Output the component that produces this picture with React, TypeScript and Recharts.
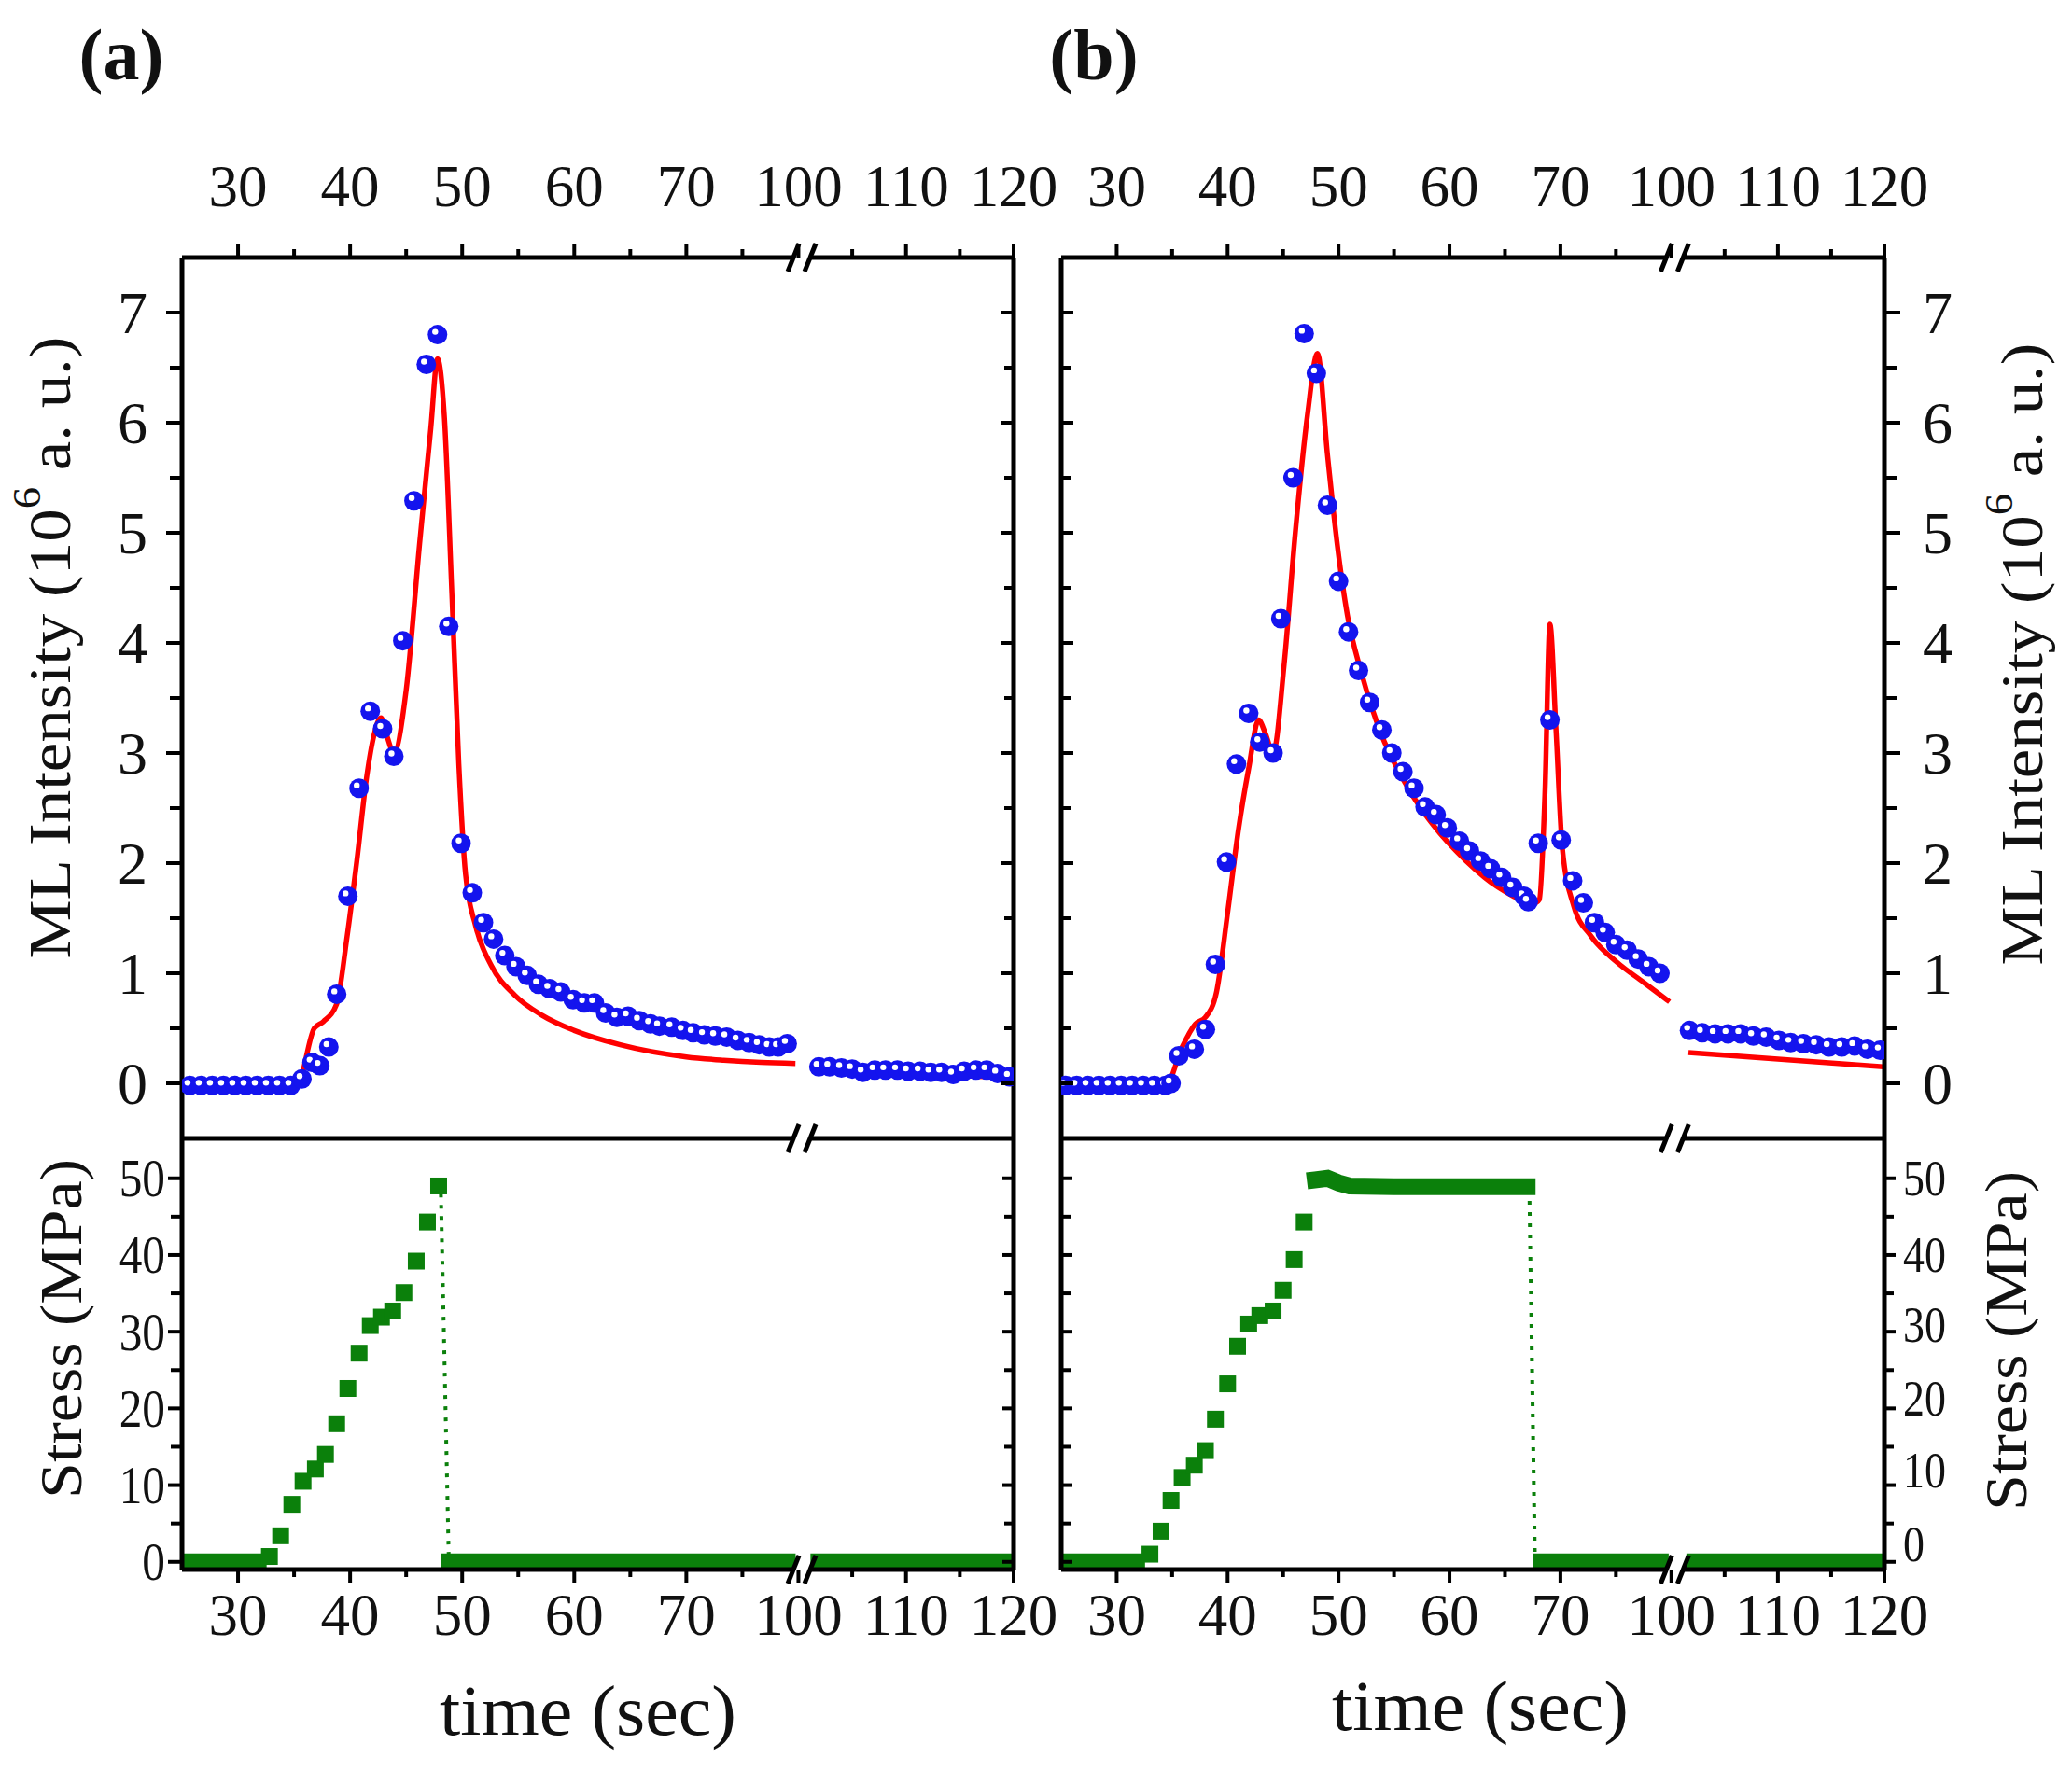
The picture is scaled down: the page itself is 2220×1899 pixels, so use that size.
import React from "react";
import { ComposedChart, Line, Scatter, XAxis, YAxis, ReferenceDot } from "recharts";

// broken time axis: 70-100 s squeezed to one decade, gap at 100 s
const axisPos = (t: number) =>
  t <= 70 ? t : t <= 100 ? 70 + (t - 70) / 3 : 80 + (t - 100) * 0.96;

const xTickTimes = [30, 40, 50, 60, 70, 100, 110, 120];
const xTickLabels = ["30", "40", "50", "60", "70", "100", "110", "120"];
const xMinorTimes = [35, 45, 55, 65, 85, 105, 115];
const mlTicks = [0, 0.5, 1, 1.5, 2, 2.5, 3, 3.5, 4, 4.5, 5, 5.5, 6, 6.5, 7];
const mlMajor = [0, 1, 2, 3, 4, 5, 6, 7];
const stressTicks = [0, 5, 10, 15, 20, 25, 30, 35, 40, 45, 50];
const stressMajor = [0, 10, 20, 30, 40, 50];

// (a) ML intensity, measured (blue) and fit (red)
const mlBlueA: [number, number][] = [
  [25.7, -0.02], [26.7, -0.02], [27.7, -0.02], [28.7, -0.02], [29.7, -0.02], [30.7, -0.02],
  [31.7, -0.02], [32.7, -0.02], [33.7, -0.02], [34.7, -0.02], [35.7, 0.04], [36.6, 0.19],
  [37.3, 0.16], [38.1, 0.33], [38.8, 0.81], [39.8, 1.7], [40.8, 2.68], [41.8, 3.38],
  [42.9, 3.22], [43.9, 2.97], [44.7, 4.02], [45.7, 5.29], [46.8, 6.53], [47.8, 6.8],
  [48.8, 4.15], [49.9, 2.18], [50.9, 1.73], [51.9, 1.46], [52.8, 1.31], [53.8, 1.16],
  [54.8, 1.06], [55.8, 0.98], [56.8, 0.9], [57.8, 0.86], [58.8, 0.83], [59.9, 0.76],
  [60.9, 0.73], [61.8, 0.73], [62.8, 0.64], [63.8, 0.6], [64.8, 0.61], [65.8, 0.57],
  [66.8, 0.54], [67.6, 0.52], [68.7, 0.51], [69.7, 0.48], [71.8, 0.46], [74.8, 0.44],
  [77.8, 0.43], [80.8, 0.42], [83.8, 0.39], [86.8, 0.37], [89.5, 0.35], [92.2, 0.33],
  [94.6, 0.33], [97, 0.36],
];
const mlBlueA2: [number, number][] = [
  [101.9, 0.15], [102.9, 0.15], [104.0, 0.14], [105.0, 0.13], [106.0, 0.1], [107.1, 0.12],
  [108.1, 0.12], [109.2, 0.12], [110.2, 0.11], [111.3, 0.11], [112.3, 0.1], [113.3, 0.1],
  [114.4, 0.08], [115.4, 0.11], [116.5, 0.12], [117.5, 0.12], [118.5, 0.09], [119.6, 0.06],
];
const mlRedA: [number, number][] = [
  [25, 0], [35.3, 0], [36.8, 0.5], [37.6, 0.56], [38.8, 0.72], [39.7, 1.31], [40.6, 2.02],
  [41.5, 2.8], [42.1, 3.15], [42.75, 3.32], [43.3, 3.15], [43.9, 3.0], [45.0, 3.57],
  [46.2, 4.9], [47.2, 5.95], [47.8, 6.58], [48.4, 6.07], [49.1, 4.4], [49.7, 2.9],
  [50.3, 1.9], [51.2, 1.43], [52.6, 1.07], [54.7, 0.8], [57.1, 0.62], [60, 0.48],
  [64.1, 0.35], [70, 0.24], [80, 0.21], [90, 0.19], [99.2, 0.18],
];
const mlRedA2: [number, number][] = [[101.2, 0.12], [110, 0.09], [119.9, 0.05]];

// (b)
const mlBlueB: [number, number][] = [
  [25.4, -0.02], [26.4, -0.02], [27.4, -0.02], [28.4, -0.02], [29.4, -0.02], [30.4, -0.02],
  [31.4, -0.02], [32.4, -0.02], [33.4, -0.02], [34.4, -0.02], [34.9, 0.0], [35.6, 0.25],
  [37.0, 0.31], [38.0, 0.49], [38.9, 1.08], [39.9, 2.01], [40.8, 2.9], [41.9, 3.36],
  [42.9, 3.1], [44.1, 3.0], [44.8, 4.22], [45.9, 5.5], [46.9, 6.81], [48.0, 6.45],
  [49.0, 5.25], [50.0, 4.56], [50.9, 4.1], [51.8, 3.75], [52.8, 3.46], [53.9, 3.21],
  [54.8, 3.0], [55.8, 2.83], [56.8, 2.68], [57.8, 2.51], [58.8, 2.44], [59.8, 2.32],
  [60.9, 2.2], [61.8, 2.11], [62.8, 2.02], [63.7, 1.95], [64.7, 1.87], [65.7, 1.78],
  [66.7, 1.7], [67.1, 1.65], [68.0, 2.18], [69.05, 3.3], [70.2, 2.21], [73.3, 1.84],
  [76.2, 1.64], [79.2, 1.46], [82.1, 1.37], [85, 1.26], [88, 1.21], [91, 1.13],
  [93.9, 1.06], [96.9, 1.0],
];
const mlBlueB2: [number, number][] = [
  [101.7, 0.48], [102.9, 0.46], [104.1, 0.45], [105.3, 0.45], [106.5, 0.45], [107.7, 0.43],
  [108.9, 0.42], [110.1, 0.39], [111.2, 0.37], [112.4, 0.36], [113.6, 0.35], [114.8, 0.33],
  [116.0, 0.33], [117.2, 0.34], [118.4, 0.31], [119.6, 0.3],
];
const mlRedB: [number, number][] = [
  [25, 0], [34.5, 0], [35.9, 0.33], [37.1, 0.54], [38, 0.6], [39, 0.83], [40, 1.55],
  [41, 2.32], [41.9, 2.86], [42.8, 3.3], [43.4, 3.18], [44.1, 3.0], [45.1, 3.81],
  [46.1, 5.0], [47.2, 6.07], [48.1, 6.63], [49, 5.71], [49.9, 4.88], [50.8, 4.25],
  [52, 3.75], [53.7, 3.21], [56.1, 2.71], [58.5, 2.35], [61.5, 2.02], [64.4, 1.78],
  [67.7, 1.64], [68.1, 1.67], [68.6, 2.62], [69.05, 4.17], [69.6, 3.21], [70.5, 2.14],
  [73.6, 1.61], [78.2, 1.34], [85.3, 1.1], [92.4, 0.92], [99.5, 0.74],
];
const mlRedB2: [number, number][] = [[101.6, 0.28], [110, 0.22], [119.9, 0.15]];

// stress (MPa)
const stressRiseA: [number, number][] = [
  [32.8, 0.7], [33.8, 3.4], [34.8, 7.5], [35.8, 10.5], [36.9, 12.1], [37.8, 14.0],
  [38.8, 18.0], [39.8, 22.6], [40.8, 27.2], [41.8, 30.8], [42.8, 31.9], [43.8, 32.7],
  [44.8, 35.1], [45.9, 39.2], [46.9, 44.3], [47.9, 49.0],
];
const stressDropA: [number, number][] = [[48.1, 48], [48.8, 0.5]];
const stressZeroA: [number, number][][] = [
  [[25.6, 0], [31.8, 0]],
  [[48.9, 0], [97, 0]],
  [[101.9, 0], [119.3, 0]],
];
const stressRiseB: [number, number][] = [
  [33.0, 1.0], [34.0, 4.0], [34.9, 8.0], [35.9, 11.0], [37.0, 12.6], [38.0, 14.5],
  [38.9, 18.6], [40.0, 23.2], [40.9, 28.1], [41.9, 31.0], [42.9, 32.1], [44.1, 32.7],
  [45.0, 35.4], [46.0, 39.4], [46.9, 44.3],
];
const stressHoldB: [number, number][] = [
  [47.9, 49.8], [49.0, 50.0], [50.0, 49.4], [51.0, 49.0], [55, 48.9], [60, 48.9], [67.0, 48.9],
];
const stressDropB: [number, number][] = [[67.2, 48.5], [67.7, 0.5]];
const stressZeroB: [number, number][][] = [
  [[25.6, 0], [31.8, 0]],
  [[68.3, 0], [97, 0]],
  [[102.2, 0], [119.3, 0]],
];

const FONT = "'Liberation Serif', 'Times New Roman', serif";
const BLUE = "#1414ee";
const RED = "#ff0000";
const GREEN = "#0b800b";
const X_DOMAIN: [number, number] = [25, axisPos(120)];
const ML_DOMAIN: [number, number] = [-0.5, 7.5];
const ST_DOMAIN: [number, number] = [-1, 55.2];
const BREAK_POS = 80.3;
const AXIS_LINE = { stroke: "#000", strokeWidth: 5 };
// in the original the right-hand stress labels creep upward from their ticks
const rightStressShift = new Map<number, number>([[30, -7], [20, -11], [10, -16], [0, -19]]);

const pts = (arr: [number, number][]) => arr.map(([t, v]) => ({ x: axisPos(t), y: v }));

const xMajorPos = xTickTimes.map(axisPos);
const xTicks = [...xMajorPos, ...xMinorTimes.map(axisPos)].sort((a, b) => a - b);
const xLabelMap = new Map(xMajorPos.map((p, i) => [p, xTickLabels[i]] as [number, string]));
const xMajorSet = new Set(xMajorPos);
const mlLabelMap = new Map(mlMajor.map((v) => [v, String(v)] as [number, string]));
const stLabelMap = new Map(stressMajor.map((v) => [v, String(v)] as [number, string]));

type Side = "top" | "bottom" | "left" | "right";
const DIR: Record<Side, [number, number]> = { top: [0, -1], bottom: [0, 1], left: [-1, 0], right: [1, 0] };

function makeTick(
  side: Side,
  o: {
    inward?: boolean;
    major: Set<number>;
    labels?: Map<number, string>;
    majorLen: number;
    minorLen: number;
    gap?: number;
    fontSize?: number;
    squeeze?: number;
    shift?: Map<number, number>;
  }
) {
  return (props: any) => {
    const { x, y, payload } = props;
    const v = payload.value;
    const [dx, dy] = DIR[side];
    const s = o.inward ? -1 : 1;
    const len = o.major.has(v) ? o.majorLen : o.minorLen;
    const text = o.labels ? o.labels.get(v) : undefined;
    const g = o.gap ?? 0;
    const sh = o.shift?.get(v) ?? 0;
    const anchor = side === "left" ? "end" : side === "right" ? "start" : "middle";
    return (
      <g>
        <line x1={x} y1={y} x2={x + dx * s * len} y2={y + dy * s * len} stroke="#000" strokeWidth={4} />
        {text !== undefined && (
          <text
            transform={`translate(${x + dx * g},${y + dy * g + sh}) scale(${o.squeeze ?? 1},1)`}
            textAnchor={anchor}
            dominantBaseline="central"
            fontFamily={FONT}
            fontSize={o.fontSize ?? 62}
            fill="#111"
          >
            {text}
          </text>
        )}
      </g>
    );
  };
}

const xTopTick = makeTick("top", { major: xMajorSet, labels: xLabelMap, majorLen: 15, minorLen: 9, gap: 76, fontSize: 63 });
const xSepTick = makeTick("top", { inward: true, major: xMajorSet, majorLen: 18, minorLen: 10 });
const xBottomTick = makeTick("bottom", { major: xMajorSet, labels: xLabelMap, majorLen: 14, minorLen: 8, gap: 49, fontSize: 63 });

const mlSet = new Set(mlMajor);
const mlLeftOut = makeTick("left", { major: mlSet, labels: mlLabelMap, majorLen: 17, minorLen: 13, gap: 37, fontSize: 64 });
const mlRightIn = makeTick("right", { inward: true, major: mlSet, majorLen: 13, minorLen: 10 });
const mlLeftIn = makeTick("left", { inward: true, major: mlSet, majorLen: 13, minorLen: 10 });
const mlRightOut = makeTick("right", { major: mlSet, labels: mlLabelMap, majorLen: 17, minorLen: 13, gap: 41, fontSize: 64 });

const stSet = new Set(stressMajor);
const stLeftOut = makeTick("left", { major: stSet, labels: stLabelMap, majorLen: 15, minorLen: 12, gap: 18, fontSize: 58, squeeze: 0.85 });
const stRightIn = makeTick("right", { inward: true, major: stSet, majorLen: 12, minorLen: 10 });
const stLeftIn = makeTick("left", { inward: true, major: stSet, majorLen: 12, minorLen: 10 });
const stRightOut = makeTick("right", {
  major: stSet, labels: stLabelMap, majorLen: 12, minorLen: 10, gap: 20, fontSize: 54, squeeze: 0.85, shift: rightStressShift,
});

const Sphere = (p: any) => (
  <g>
    <circle cx={p.cx} cy={p.cy} r={10.5} fill={BLUE} />
    <circle cx={p.cx - 2.5} cy={p.cy - 3} r={3.2} fill="#fff" />
  </g>
);

const GreenSquare = (p: any) => <rect x={p.cx - 9} y={p.cy - 9} width={18} height={18} fill={GREEN} />;

const BreakMark = (p: any) => (
  <g>
    <rect x={p.cx - 9} y={p.cy - 4} width={18} height={8} fill="#fff" />
    <line x1={p.cx - 15} y1={p.cy + 15} x2={p.cx - 3} y2={p.cy - 15} stroke="#000" strokeWidth={5} />
    <line x1={p.cx + 3} y1={p.cy + 15} x2={p.cx + 15} y2={p.cy - 15} stroke="#000" strokeWidth={5} />
  </g>
);

type PanelGeom = { left: number; width: number; leftW: number; rightW: number; marginRight: number; labelsLeft: boolean };

// axis props shared by every axis; allowDataOverflow keeps the fixed domain on axes that carry no series
const axisBase = { type: "number" as const, interval: 0, tickSize: 0, tickMargin: 0, tickLine: false, axisLine: AXIS_LINE, allowDataOverflow: true };

function MlPanel({ g, blue, blue2, red, red2 }: { g: PanelGeom; blue: [number, number][]; blue2: [number, number][]; red: [number, number][]; red2: [number, number][] }) {
  return (
    <div style={{ position: "absolute", left: g.left, top: 0 }}>
      <ComposedChart width={g.width} height={1240} margin={{ top: 0, right: g.marginRight, bottom: 20, left: 0 }}>
        <XAxis {...axisBase} xAxisId="x" orientation="top" dataKey="x" domain={X_DOMAIN} ticks={xTicks} height={276} tick={xTopTick} />
        <YAxis {...axisBase} yAxisId="l" orientation="left" dataKey="y" domain={ML_DOMAIN} ticks={mlTicks}
          width={g.leftW} tick={g.labelsLeft ? mlLeftOut : mlLeftIn} />
        <YAxis {...axisBase} yAxisId="r" orientation="right" domain={ML_DOMAIN} ticks={mlTicks}
          width={g.rightW} tick={g.labelsLeft ? mlRightIn : mlRightOut} />
        <Scatter xAxisId="x" yAxisId="l" data={pts(blue)} dataKey="y" shape={Sphere} isAnimationActive={false} />
        <Scatter xAxisId="x" yAxisId="l" data={pts(blue2)} dataKey="y" shape={Sphere} isAnimationActive={false} />
        <Line xAxisId="x" yAxisId="l" data={pts(red)} dataKey="y" type="monotone" stroke={RED} strokeWidth={5.5} dot={false} isAnimationActive={false} />
        <Line xAxisId="x" yAxisId="l" data={pts(red2)} dataKey="y" type="monotone" stroke={RED} strokeWidth={5.5} dot={false} isAnimationActive={false} />
        <ReferenceDot xAxisId="x" yAxisId="l" x={BREAK_POS} y={ML_DOMAIN[1]} r={0} ifOverflow="visible" shape={BreakMark} />
      </ComposedChart>
    </div>
  );
}

function StressPanel({ g, rise, hold, drop, zeros }: { g: PanelGeom; rise: [number, number][]; hold?: [number, number][]; drop: [number, number][]; zeros: [number, number][][] }) {
  return (
    <div style={{ position: "absolute", left: g.left, top: 1200 }}>
      <ComposedChart width={g.width} height={620} margin={{ top: 0, right: g.marginRight, bottom: 0, left: 0 }}>
        <XAxis {...axisBase} xAxisId="t" orientation="top" domain={X_DOMAIN} ticks={xTicks} height={20} tick={xSepTick} />
        <XAxis {...axisBase} xAxisId="b" orientation="bottom" dataKey="x" domain={X_DOMAIN} ticks={xTicks} height={138} tick={xBottomTick} />
        <YAxis {...axisBase} yAxisId="l" orientation="left" dataKey="y" domain={ST_DOMAIN} ticks={stressTicks}
          width={g.leftW} tick={g.labelsLeft ? stLeftOut : stLeftIn} />
        <YAxis {...axisBase} yAxisId="r" orientation="right" domain={ST_DOMAIN} ticks={stressTicks}
          width={g.rightW} tick={g.labelsLeft ? stRightIn : stRightOut} />
        {zeros.map((seg, i) => (
          <Line key={`z${i}`} xAxisId="b" yAxisId="l" data={pts(seg)} dataKey="y" type="linear" stroke={GREEN}
            strokeWidth={18} strokeLinecap="square" dot={false} isAnimationActive={false} />
        ))}
        {hold && (
          <Line xAxisId="b" yAxisId="l" data={pts(hold)} dataKey="y" type="linear" stroke={GREEN}
            strokeWidth={18} strokeLinecap="square" dot={false} isAnimationActive={false} />
        )}
        <Line xAxisId="b" yAxisId="l" data={pts(drop)} dataKey="y" type="linear" stroke={GREEN}
          strokeWidth={4} strokeDasharray="4 8" dot={false} isAnimationActive={false} />
        <Scatter xAxisId="b" yAxisId="l" data={pts(rise)} dataKey="y" shape={GreenSquare} isAnimationActive={false} />
        <ReferenceDot xAxisId="b" yAxisId="l" x={BREAK_POS} y={ST_DOMAIN[1]} r={0} ifOverflow="visible" shape={BreakMark} />
        <ReferenceDot xAxisId="b" yAxisId="l" x={BREAK_POS} y={ST_DOMAIN[0]} r={0} ifOverflow="visible" shape={BreakMark} />
      </ComposedChart>
    </div>
  );
}

const geomA: PanelGeom = { left: 0, width: 1160, leftW: 195, rightW: 1, marginRight: 73, labelsLeft: true };
const geomB: PanelGeom = { left: 1110, width: 1110, leftW: 27, rightW: 201, marginRight: 0, labelsLeft: false };

export default function App() {
  return (
    <div style={{ position: "absolute", left: 0, top: 0, width: 2220, height: 1899, background: "#fff", overflow: "hidden" }}>
      <MlPanel g={geomA} blue={mlBlueA} blue2={mlBlueA2} red={mlRedA} red2={mlRedA2} />
      <MlPanel g={geomB} blue={mlBlueB} blue2={mlBlueB2} red={mlRedB} red2={mlRedB2} />
      <StressPanel g={geomA} rise={stressRiseA} drop={stressDropA} zeros={stressZeroA} />
      <StressPanel g={geomB} rise={stressRiseB} hold={stressHoldB} drop={stressDropB} zeros={stressZeroB} />
      <svg width={2220} height={1899} style={{ position: "absolute", left: 0, top: 0, pointerEvents: "none" }} fontFamily={FONT} fill="#111">
        <text x={130} y={58} textAnchor="middle" dominantBaseline="central" fontSize={78} fontWeight="bold">(a)</text>
        <text x={1172} y={58} textAnchor="middle" dominantBaseline="central" fontSize={78} fontWeight="bold">(b)</text>
        <text transform="translate(53,694) rotate(-90)" textAnchor="middle" dominantBaseline="central" fontSize={64}
          textLength={667} lengthAdjust="spacingAndGlyphs">
          ML Intensity (10<tspan dy={-24} fontSize={42}>6</tspan><tspan dy={24}> a. u.)</tspan>
        </text>
        <text transform="translate(2166,701) rotate(-90)" textAnchor="middle" dominantBaseline="central" fontSize={64}
          textLength={667} lengthAdjust="spacingAndGlyphs">
          ML Intensity (10<tspan dy={-24} fontSize={42}>6</tspan><tspan dy={24}> a. u.)</tspan>
        </text>
        <text transform="translate(65,1424) rotate(-90)" textAnchor="middle" dominantBaseline="central" fontSize={64}
          textLength={364} lengthAdjust="spacingAndGlyphs">Stress (MPa)</text>
        <text transform="translate(2149,1437) rotate(-90)" textAnchor="middle" dominantBaseline="central" fontSize={64}
          textLength={364} lengthAdjust="spacingAndGlyphs">Stress (MPa)</text>
        <text x={630} y={1833} textAnchor="middle" dominantBaseline="central" fontSize={76}
          textLength={318} lengthAdjust="spacingAndGlyphs">time (sec)</text>
        <text x={1586} y={1828} textAnchor="middle" dominantBaseline="central" fontSize={76}
          textLength={318} lengthAdjust="spacingAndGlyphs">time (sec)</text>
      </svg>
    </div>
  );
}
